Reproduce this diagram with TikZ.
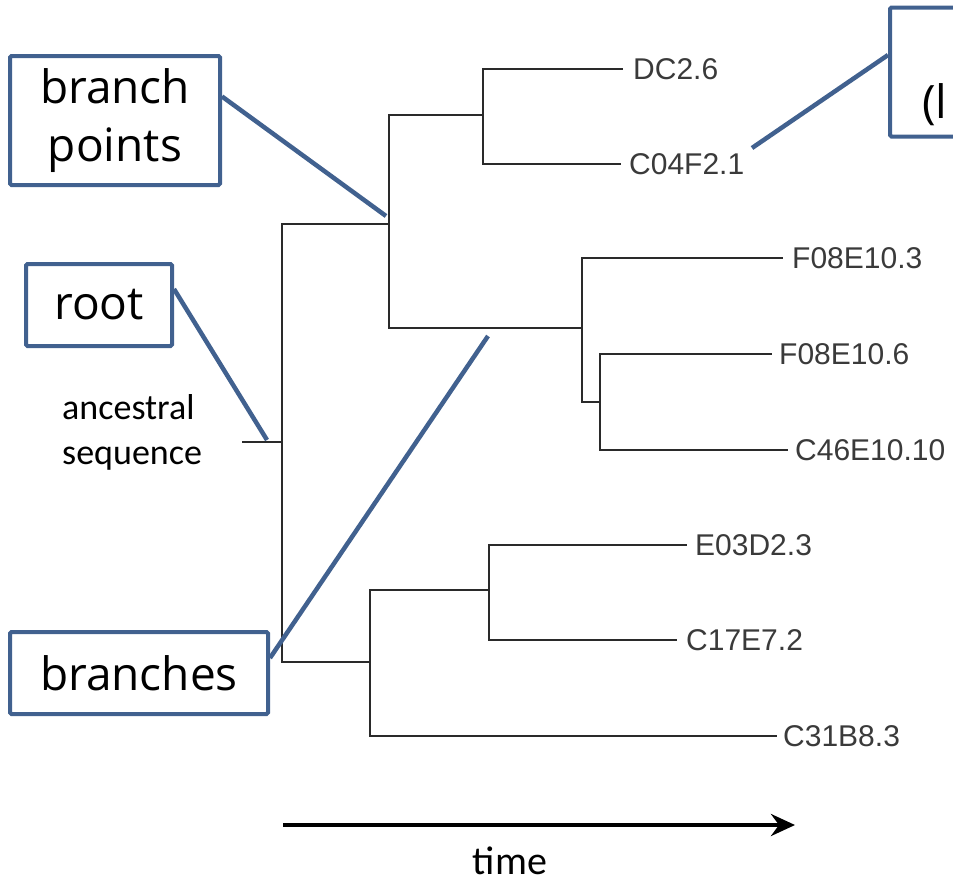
\documentclass[tikz,border=0pt]{standalone}
\usepackage{fontspec}
\setmainfont{Carlito}
\newfontfamily\leaffont{Liberation Sans}
\newfontfamily\boxfont{Open Sans}
\usetikzlibrary{arrows.meta}
\definecolor{callblue}{HTML}{41618F}
\definecolor{treegray}{HTML}{2A2A2A}
\definecolor{leafgray}{HTML}{3A3A3A}
\tikzset{
  tree/.style={draw=treegray, line width=1.5pt, line cap=rect},
  leaf/.style={font=\leaffont\fontsize{30}{33}\selectfont, text=leafgray, anchor=west, inner sep=0pt},
  callbox/.style={draw=callblue, line width=4pt, rounded corners=1.5pt},
  calltext/.style={font=\boxfont\fontsize{46}{58}\selectfont, align=center, inner sep=0pt},
  callline/.style={draw=callblue, line width=4.5pt},
  plain/.style={font=\fontsize{36}{45}\selectfont, inner sep=0pt}
}
\begin{document}
\begin{tikzpicture}[x=1pt,y=-1pt]
\useasboundingbox (0,0) rectangle (953,884);
\clip (0,0) rectangle (953,884);
% tree coordinates
\coordinate (stub) at (243,442);
\coordinate (r) at (282,442);
\coordinate (ra) at (282,224);
\coordinate (rb) at (282,662);
\coordinate (a) at (389,224);
\coordinate (at) at (389,115);
\coordinate (ab) at (389,328);
\coordinate (b) at (483,115);
\coordinate (c) at (582,328);
\coordinate (d) at (600,402);
\coordinate (e) at (370,662);
\coordinate (f) at (489,590);
% leaves
\node[leaf] (l1) at (633,69) {DC2.6};
\node[leaf] (l2) at (629,164) {C04F2.1};
\node[leaf] (l3) at (792,258) {F08E10.3};
\node[leaf] (l4) at (779,354) {F08E10.6};
\node[leaf] (l5) at (795,450) {C46E10.10};
\node[leaf] (l6) at (695,545) {E03D2.3};
\node[leaf] (l7) at (686,640) {C17E7.2};
\node[leaf] (l8) at (783,736) {C31B8.3};
% branches
\draw[tree] (stub) -- (r);
\draw[tree] (ra) -- (rb);
\draw[tree] (ra) -- (a);
\draw[tree] (at) -- (ab);
\draw[tree] (at) -- (b);
\draw[tree] (b |- l1) -- (b |- l2);
\draw[tree] (b |- l1) -- ([xshift=-11pt]l1.west);
\draw[tree] (b |- l2) -- ([xshift=-9pt]l2.west);
\draw[tree] (ab) -- (c);
\draw[tree] (c |- l3) -- (d -| c);
\draw[tree] (c |- l3) -- ([xshift=-10pt]l3.west);
\draw[tree] (d -| c) -- (d);
\draw[tree] (d |- l4) -- (d |- l5);
\draw[tree] (d |- l4) -- ([xshift=-8pt]l4.west);
\draw[tree] (d |- l5) -- ([xshift=-8pt]l5.west);
\draw[tree] (rb) -- (e);
\draw[tree] (e |- f) -- (e |- l8);
\draw[tree] (e |- f) -- (f);
\draw[tree] (f |- l6) -- (f |- l7);
\draw[tree] (f |- l6) -- ([xshift=-9pt]l6.west);
\draw[tree] (f |- l7) -- ([xshift=-10pt]l7.west);
\draw[tree] (e |- l8) -- ([xshift=-7pt]l8.west);
% callouts
\node[callbox, minimum width=210pt, minimum height=129pt] (bp) at (115,120.5) {};
\node[calltext] at (bp) {branch\\points};
\node[callbox, minimum width=146pt, minimum height=82pt] (rt) at (99,305) {};
\node[calltext] at (rt) {root};
\node[callbox, minimum width=258pt, minimum height=82pt] (br) at (139,673) {};
\node[calltext] at (br) {branches};
\node[callbox, minimum width=160pt, minimum height=129pt] (lv) at (970,72) {};
\node[calltext, anchor=base west] (lvt) at (922,118) {(l};
\coordinate (bpend) at (386,216);
\coordinate (rtend) at (267,440);
\coordinate (brend) at (488,336);
\coordinate (lvend) at (752,148);
\draw[callline] ([yshift=24pt]bp.east) -- (bpend);
\draw[callline] ([yshift=16pt]rt.east) -- (rtend);
\draw[callline] ([yshift=15pt]br.east) -- (brend);
\draw[callline] (lvend) -- ([yshift=17pt]lv.west);
% labels
\node[plain, align=left, anchor=north west] (anc) at (62,394) {ancestral\\sequence};
\coordinate (t0) at (283,825);
\coordinate (t1) at (795,825);
\draw[line width=4pt, -{Stealth[length=24pt, width=22pt, inset=8pt]}] (t0) -- (t1);
\node[plain, font=\fontsize{40}{44}\selectfont, anchor=base] (time) at (510,874) {time};
\end{tikzpicture}
\end{document}
